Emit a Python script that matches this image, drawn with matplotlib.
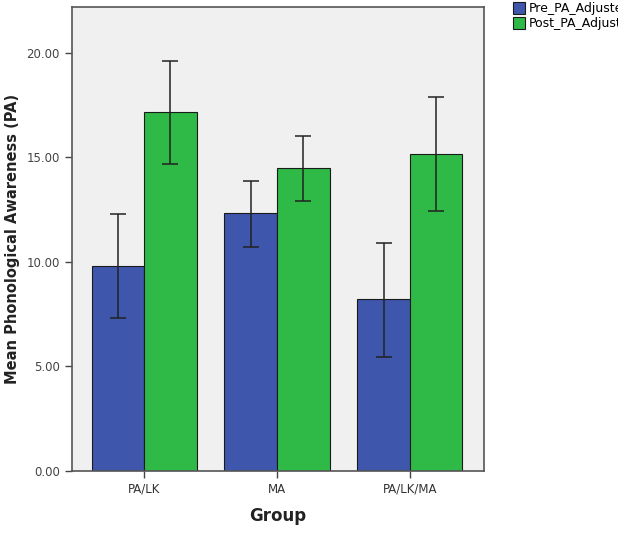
import numpy as np
import matplotlib.pyplot as plt

# Data
groups = ['PA/LK', 'MA', 'PA/LK/MA']
pre_mean = [9.81, 12.33, 8.23]
pre_lo = [7.33, 10.73, 5.45]
pre_hi = [12.30, 13.89, 10.90]
post_mean = [17.16, 14.50, 15.17]
post_lo = [14.67, 12.92, 12.44]
post_hi = [19.60, 16.04, 17.90]
series_names = ['Pre_PA_Adjusted', 'Post_PA_Adjusted']

blue = '#3e56ab'
green = '#2fb947'

fig = plt.figure(figsize=(6.18, 5.34), dpi=100)
ax = fig.add_axes([0.116, 0.118, 0.667, 0.869])
ax.set_facecolor('#f0f0f0')

x = np.arange(len(groups))
w = 0.395
pre_err = [np.array(pre_mean) - np.array(pre_lo), np.array(pre_hi) - np.array(pre_mean)]
post_err = [np.array(post_mean) - np.array(post_lo), np.array(post_hi) - np.array(post_mean)]

err_kw = dict(ecolor='#222222', elinewidth=1.1, capsize=6, capthick=1.1)
ax.bar(x - w / 2, pre_mean, w, color=blue, edgecolor='#1a1a1a', linewidth=0.8,
       yerr=pre_err, error_kw=err_kw, label=series_names[0], zorder=2)
ax.bar(x + w / 2, post_mean, w, color=green, edgecolor='#1a1a1a', linewidth=0.8,
       yerr=post_err, error_kw=err_kw, label=series_names[1], zorder=2)

ax.set_xlim(-0.544, 2.556)
ax.set_ylim(0, 22.2)
ax.set_yticks([0, 5, 10, 15, 20])
ax.set_yticklabels(['%.2f' % v for v in [0, 5, 10, 15, 20]], color='#444444', fontsize=8.5)
ax.set_xticks(x)
ax.set_xticklabels(groups, color='#333333', fontsize=8.5)
ax.tick_params(axis='both', direction='out', length=5, color='#444444', width=1)

for s in ax.spines.values():
    s.set_color('#555555')
    s.set_linewidth(1.2)

ax.set_ylabel('Mean Phonological Awareness (PA)', fontsize=10.5, fontweight='bold', color='#222222', labelpad=5)
ax.set_xlabel('Group', fontsize=12, fontweight='bold', color='#222222', labelpad=8)

fig.legend(loc='upper left', bbox_to_anchor=(0.822, 1.005), frameon=False, fontsize=9,
           handlelength=1.0, handleheight=1.0, handletextpad=0.3, labelspacing=0.15,
           borderaxespad=0)

fig.savefig('out.png', dpi=100)
